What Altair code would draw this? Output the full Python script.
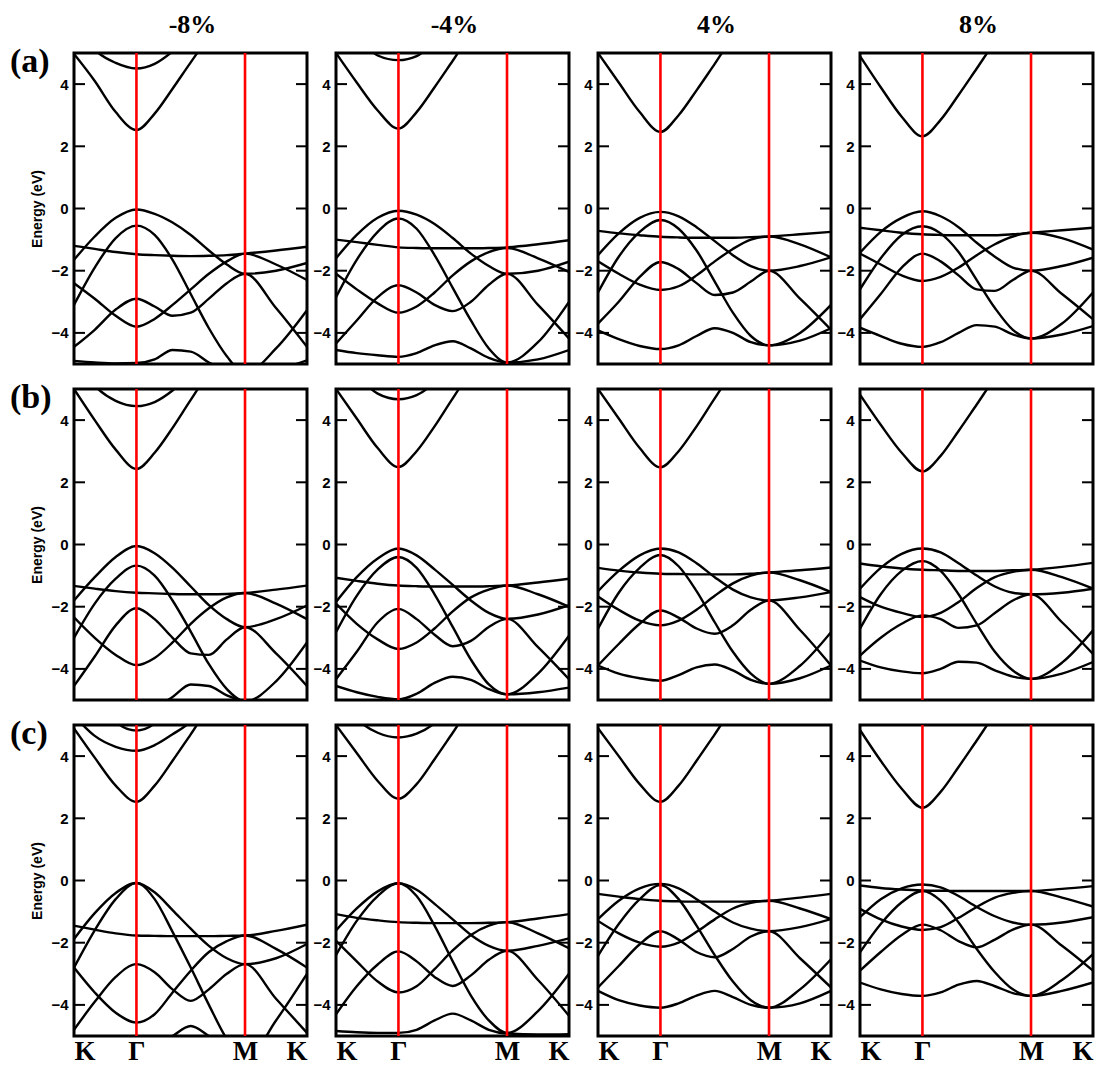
import altair as alt
import pandas as pd

# k-path sample positions: K, ., ., Gamma, ., ., ., ., ., M, ., K
K_PTS = [0.0, 0.089, 0.179, 0.268, 0.346, 0.423, 0.501, 0.579, 0.656, 0.734, 0.867, 1.0]
SYM_POS = [0.0, 0.268, 0.734, 1.0]
SYM_LAB = ["K", "Γ", "M", "K"]
STRAINS = ["-8%", "-4%", "4%", "8%"]
ROW_TAGS = ["(a)", "(b)", "(c)"]
Y_TICKS = [-4, -2, 0, 2, 4]

# ---------------- row (a) ----------------
A_M8 = {
    "C1": [4.97, 4.1, 3.1, 2.52, 3.05, 3.85, 4.7, 5.5, 6.0, 6.5, 7.0, 7.5],
    "C2": [6.0, 5.1, 4.68, 4.5, 4.65, 5.05, 5.6, 6.2, 6.6, 7.0, 7.5, 8.0],
    "B1": [-1.65, -0.9, -0.3, -0.03, -0.17, -0.45, -0.85, -1.35, -1.8, -2.1, -2.0, -1.75],
    "B2": [-3.1, -1.9, -0.95, -0.55, -0.85, -1.65, -2.75, -3.85, -4.75, -5.3, -4.5, -3.27],
    "B3": [-1.2, -1.3, -1.4, -1.47, -1.5, -1.52, -1.53, -1.52, -1.5, -1.45, -1.35, -1.23],
    "B4": [-4.45, -3.9, -3.25, -2.9, -3.15, -3.45, -3.35, -2.9, -2.4, -2.1, -3.2, -4.45],
    "B5": [-2.4, -2.9, -3.45, -3.8, -3.55, -3.1, -2.6, -2.1, -1.7, -1.45, -1.8, -2.3],
    "B6": [-4.9, -4.95, -4.98, -4.97, -4.85, -4.55, -4.6, -4.95, -5.2, -5.4, -5.2, -4.88],
}
A_M4 = {
    "C1": [5.0, 4.05, 3.15, 2.57, 3.1, 3.9, 4.75, 5.6, 6.1, 6.5, 7.0, 7.5],
    "C2": [6.5, 5.6, 4.92, 4.77, 4.9, 5.35, 6.0, 6.6, 7.0, 7.5, 8.0, 8.5],
    "B1": [-1.6, -0.85, -0.3, -0.07, -0.2, -0.5, -0.95, -1.45, -1.85, -2.1, -2.0, -1.71],
    "B2": [-2.85, -1.65, -0.75, -0.32, -0.65, -1.5, -2.55, -3.6, -4.5, -4.95, -4.3, -3.0],
    "B3": [-1.0, -1.08, -1.17, -1.25, -1.27, -1.28, -1.28, -1.28, -1.27, -1.25, -1.15, -1.02],
    "B4": [-4.34, -3.6, -2.85, -2.47, -2.7, -3.1, -3.3, -3.0, -2.45, -2.1, -3.1, -4.18],
    "B5": [-2.1, -2.6, -3.05, -3.35, -3.15, -2.7, -2.15, -1.7, -1.4, -1.27, -1.6, -2.04],
    "B6": [-4.55, -4.65, -4.72, -4.77, -4.65, -4.4, -4.27, -4.5, -4.8, -4.95, -4.85, -4.55],
}
A_P4 = {
    "C1": [5.0, 4.05, 3.1, 2.46, 3.0, 3.8, 4.65, 5.5, 6.0, 6.5, 7.0, 7.5],
    "B1": [-1.5, -0.8, -0.3, -0.11, -0.25, -0.6, -1.05, -1.5, -1.85, -2.0, -1.85, -1.57],
    "B2": [-2.7, -1.55, -0.75, -0.37, -0.65, -1.35, -2.35, -3.35, -4.1, -4.4, -4.0, -3.1],
    "B3": [-0.72, -0.8, -0.86, -0.91, -0.93, -0.94, -0.94, -0.94, -0.92, -0.9, -0.83, -0.75],
    "B4": [-3.7, -3.0, -2.2, -1.72, -1.95, -2.4, -2.78, -2.7, -2.35, -2.0, -2.9, -3.9],
    "B5": [-1.7, -2.1, -2.45, -2.62, -2.5, -2.15, -1.7, -1.3, -1.0, -0.9, -1.15, -1.57],
    "B6": [-3.92, -4.2, -4.42, -4.52, -4.4, -4.1, -3.85, -4.0, -4.3, -4.4, -4.25, -3.85],
}
A_P8 = {
    "C1": [4.9, 3.9, 2.95, 2.32, 2.85, 3.65, 4.5, 5.35, 6.0, 6.5, 7.0, 7.5],
    "B1": [-1.42, -0.75, -0.3, -0.09, -0.25, -0.6, -1.1, -1.55, -1.9, -2.0, -1.85, -1.58],
    "B2": [-2.6, -1.6, -0.85, -0.57, -0.8, -1.4, -2.3, -3.2, -3.9, -4.18, -3.7, -2.7],
    "B3": [-0.62, -0.7, -0.78, -0.83, -0.85, -0.86, -0.86, -0.86, -0.83, -0.78, -0.7, -0.62],
    "B4": [-3.56, -2.75, -1.9, -1.45, -1.7, -2.15, -2.6, -2.65, -2.3, -2.0, -2.75, -3.56],
    "B5": [-1.45, -1.8, -2.15, -2.33, -2.2, -1.9, -1.5, -1.15, -0.9, -0.78, -0.95, -1.32],
    "B6": [-3.83, -4.1, -4.35, -4.45, -4.3, -4.0, -3.75, -3.8, -4.05, -4.18, -4.05, -3.78],
}

# ---------------- row (b) ----------------
B_M8 = {
    "C1": [5.0, 4.0, 3.05, 2.43, 2.95, 3.75, 4.65, 5.5, 6.0, 6.5, 7.0, 7.5],
    "C2": [6.0, 5.1, 4.62, 4.45, 4.58, 4.95, 5.5, 6.2, 6.6, 7.0, 7.5, 8.0],
    "B1": [-1.8, -1.05, -0.4, -0.05, -0.28, -0.75, -1.35, -1.95, -2.4, -2.66, -2.4, -1.96],
    "B2": [-3.0, -1.9, -1.1, -0.68, -1.0, -1.8, -2.8, -3.85, -4.65, -5.05, -4.4, -3.15],
    "B3": [-1.33, -1.42, -1.5, -1.55, -1.57, -1.59, -1.6, -1.6, -1.59, -1.56, -1.45, -1.32],
    "B4": [-4.55, -3.6, -2.6, -2.05, -2.4, -3.0, -3.5, -3.55, -3.05, -2.66, -3.5, -4.55],
    "B5": [-2.34, -3.0, -3.55, -3.88, -3.65, -3.15, -2.55, -2.05, -1.7, -1.56, -1.9, -2.4],
    "B6": [-5.3, -5.4, -5.4, -5.4, -5.25, -4.9, -4.5, -4.55, -4.85, -5.05, -5.2, -5.2],
}
B_M4 = {
    "C1": [5.0, 4.05, 3.1, 2.49, 3.0, 3.8, 4.7, 5.55, 6.0, 6.5, 7.0, 7.5],
    "C2": [6.5, 5.5, 4.85, 4.67, 4.8, 5.2, 5.8, 6.5, 7.0, 7.5, 8.0, 8.5],
    "B1": [-1.85, -1.05, -0.45, -0.13, -0.35, -0.8, -1.3, -1.8, -2.2, -2.39, -2.25, -1.95],
    "B2": [-2.82, -1.65, -0.8, -0.4, -0.75, -1.6, -2.65, -3.7, -4.5, -4.82, -4.15, -2.93],
    "B3": [-1.07, -1.17, -1.26, -1.32, -1.34, -1.35, -1.35, -1.35, -1.34, -1.32, -1.22, -1.1],
    "B4": [-4.33, -3.45, -2.5, -2.07, -2.4, -2.9, -3.27, -3.1, -2.65, -2.39, -3.3, -4.33],
    "B5": [-1.9, -2.55, -3.05, -3.36, -3.15, -2.7, -2.15, -1.7, -1.45, -1.32, -1.6, -2.0],
    "B6": [-4.55, -4.75, -4.9, -4.98, -4.8, -4.45, -4.25, -4.35, -4.65, -4.82, -4.75, -4.6],
}
B_P4 = {
    "C1": [5.0, 4.05, 3.1, 2.48, 3.0, 3.8, 4.7, 5.55, 6.0, 6.5, 7.0, 7.5],
    "B1": [-1.5, -0.85, -0.35, -0.13, -0.25, -0.6, -1.05, -1.45, -1.7, -1.8, -1.7, -1.53],
    "B2": [-2.71, -1.55, -0.75, -0.34, -0.7, -1.5, -2.5, -3.45, -4.15, -4.48, -3.9, -2.82],
    "B3": [-0.75, -0.84, -0.9, -0.94, -0.95, -0.96, -0.96, -0.96, -0.94, -0.9, -0.83, -0.74],
    "B4": [-3.89, -3.2, -2.55, -2.12, -2.35, -2.7, -2.87, -2.6, -2.1, -1.8, -2.75, -3.89],
    "B5": [-1.67, -2.1, -2.45, -2.6, -2.45, -2.1, -1.65, -1.25, -1.0, -0.9, -1.15, -1.53],
    "B6": [-3.89, -4.15, -4.3, -4.38, -4.2, -3.95, -3.86, -4.05, -4.35, -4.48, -4.3, -3.89],
}
B_P8 = {
    "C1": [4.82, 3.85, 2.95, 2.35, 2.85, 3.65, 4.5, 5.35, 6.0, 6.5, 7.0, 7.5],
    "B1": [-1.42, -0.75, -0.3, -0.13, -0.25, -0.6, -1.0, -1.35, -1.55, -1.6, -1.55, -1.42],
    "B2": [-2.71, -1.6, -0.85, -0.53, -0.85, -1.6, -2.55, -3.45, -4.05, -4.32, -3.8, -2.76],
    "B3": [-0.61, -0.7, -0.77, -0.81, -0.83, -0.85, -0.85, -0.85, -0.83, -0.81, -0.72, -0.59],
    "B4": [-3.57, -3.0, -2.55, -2.28, -2.4, -2.68, -2.6, -2.2, -1.8, -1.6, -2.5, -3.52],
    "B5": [-1.69, -2.0, -2.2, -2.33, -2.2, -1.85, -1.4, -1.05, -0.88, -0.81, -1.05, -1.42],
    "B6": [-3.73, -3.95, -4.08, -4.14, -4.0, -3.77, -3.8, -4.05, -4.25, -4.32, -4.15, -3.78],
}

# ---------------- row (c) ----------------
C_M8 = {
    "C1": [4.89, 3.95, 3.05, 2.53, 3.05, 3.85, 4.7, 5.55, 6.0, 6.5, 7.0, 7.5],
    "C2": [5.3, 4.65, 4.3, 4.17, 4.35, 4.7, 5.1, 5.7, 6.2, 6.5, 7.0, 7.5],
    "C3": [7.0, 6.0, 5.1, 4.82, 5.05, 5.7, 6.5, 7.0, 7.5, 8.0, 8.5, 9.0],
    "B1": [-1.88, -1.05, -0.4, -0.08, -0.38, -0.95, -1.55, -2.1, -2.5, -2.69, -2.5, -2.04],
    "B2": [-2.8, -1.6, -0.6, -0.08, -0.6, -1.65, -2.8, -4.0, -5.1, -5.8, -4.5, -3.0],
    "B3": [-1.45, -1.58, -1.7, -1.77, -1.78, -1.79, -1.79, -1.79, -1.78, -1.77, -1.62, -1.42],
    "B4": [-4.8, -3.9, -3.1, -2.69, -2.95, -3.5, -3.87, -3.5, -3.0, -2.69, -3.8, -4.9],
    "B5": [-2.8, -3.6, -4.25, -4.57, -4.3, -3.6, -2.9, -2.3, -1.95, -1.77, -2.2, -2.8],
    "B6": [-5.5, -5.5, -5.5, -5.5, -5.4, -5.0, -4.68, -5.0, -5.4, -5.6, -5.6, -5.5],
}
C_M4 = {
    "C1": [5.0, 4.1, 3.2, 2.63, 3.1, 3.9, 4.75, 5.6, 6.1, 6.5, 7.0, 7.5],
    "C2": [6.2, 5.2, 4.75, 4.6, 4.72, 5.05, 5.6, 6.3, 7.0, 7.5, 8.0, 8.5],
    "B1": [-1.61, -0.9, -0.35, -0.09, -0.3, -0.75, -1.25, -1.75, -2.1, -2.26, -2.1, -1.86],
    "B2": [-2.4, -1.3, -0.5, -0.09, -0.5, -1.45, -2.6, -3.7, -4.5, -4.9, -4.2, -3.0],
    "B3": [-1.08, -1.2, -1.28, -1.34, -1.36, -1.37, -1.37, -1.37, -1.36, -1.34, -1.22, -1.08],
    "B4": [-4.3, -3.4, -2.7, -2.28, -2.6, -3.1, -3.39, -3.05, -2.55, -2.26, -3.2, -4.35],
    "B5": [-1.94, -2.6, -3.25, -3.6, -3.4, -2.85, -2.25, -1.75, -1.45, -1.34, -1.7, -2.18],
    "B6": [-4.84, -4.88, -4.9, -4.9, -4.8, -4.5, -4.28, -4.5, -4.8, -4.92, -4.95, -4.94],
}
C_P4 = {
    "C1": [4.9, 4.0, 3.1, 2.53, 3.05, 3.85, 4.7, 5.55, 6.0, 6.5, 7.0, 7.5],
    "B1": [-1.24, -0.65, -0.25, -0.11, -0.25, -0.6, -1.0, -1.35, -1.55, -1.63, -1.5, -1.24],
    "B2": [-2.42, -1.4, -0.6, -0.15, -0.6, -1.45, -2.4, -3.25, -3.85, -4.09, -3.5, -2.53],
    "B3": [-0.43, -0.52, -0.6, -0.65, -0.67, -0.68, -0.68, -0.68, -0.67, -0.65, -0.55, -0.43],
    "B4": [-3.44, -2.75, -2.05, -1.63, -1.9, -2.3, -2.47, -2.2, -1.8, -1.63, -2.5, -3.44],
    "B5": [-1.3, -1.7, -2.0, -2.13, -2.0, -1.65, -1.25, -0.9, -0.72, -0.65, -0.9, -1.24],
    "B6": [-3.55, -3.85, -4.02, -4.09, -3.95, -3.7, -3.55, -3.75, -4.0, -4.09, -3.95, -3.55],
}
C_P8 = {
    "C1": [4.84, 3.85, 2.95, 2.34, 2.85, 3.65, 4.5, 5.35, 6.0, 6.5, 7.0, 7.5],
    "B1": [-1.18, -0.6, -0.25, -0.13, -0.22, -0.5, -0.85, -1.15, -1.35, -1.42, -1.35, -1.18],
    "B2": [-2.31, -1.4, -0.7, -0.34, -0.65, -1.35, -2.2, -2.95, -3.5, -3.71, -3.2, -2.37],
    "B3": [-0.16, -0.24, -0.29, -0.32, -0.33, -0.34, -0.34, -0.34, -0.34, -0.34, -0.27, -0.18],
    "B4": [-2.9, -2.3, -1.75, -1.42, -1.6, -1.95, -2.15, -1.9, -1.58, -1.42, -2.1, -2.9],
    "B5": [-0.91, -1.25, -1.48, -1.59, -1.5, -1.2, -0.85, -0.55, -0.4, -0.34, -0.55, -0.84],
    "B6": [-3.28, -3.5, -3.65, -3.71, -3.6, -3.35, -3.23, -3.4, -3.62, -3.71, -3.55, -3.28],
}

PANELS = [
    [A_M8, A_M4, A_P4, A_P8],
    [B_M8, B_M4, B_P4, B_P8],
    [C_M8, C_M4, C_P4, C_P8],
]

W, H = 233, 311
TICK_LEN = 11
SERIF = "Liberation Serif"
SANS = "Liberation Sans"

# label expression for the k-path ticks, built from the lists above
mids = [(SYM_POS[i] + SYM_POS[i + 1]) / 2 for i in range(len(SYM_POS) - 1)]
expr = f"'{SYM_LAB[-1]}'"
for m, lab in reversed(list(zip(mids, SYM_LAB[:-1]))):
    expr = f"datum.value < {m} ? '{lab}' : ({expr})"

xscale = alt.Scale(domain=[0, 1], nice=False, zero=False)
yscale = alt.Scale(domain=[-5, 5], nice=False, zero=False)

# inward frame ticks: one row per (energy, side); the tick spans TICK_LEN pixels
frac = TICK_LEN / W
tick_rows = []
for e in Y_TICKS:
    tick_rows.append({"E": e, "x0": SYM_POS[0], "x1": SYM_POS[0] + frac})
    tick_rows.append({"E": e, "x0": SYM_POS[-1] - frac, "x1": SYM_POS[-1]})
TICK_DF = pd.DataFrame(tick_rows)


def make_panel(bands, r, c):
    recs = []
    for name, vals in bands.items():
        for k, e in zip(K_PTS, vals):
            recs.append({"k": k, "E": e, "band": name})
    df = pd.DataFrame(recs)

    if r == 2:
        xaxis = alt.Axis(values=SYM_POS, labelExpr=expr, title=None, ticks=False,
                         domain=False, grid=False, labelFont=SERIF, labelFontWeight="bold",
                         labelFontSize=27, labelPadding=2, labelFlush=True,
                         labelColor="black")
    else:
        xaxis = None

    yargs = dict(values=Y_TICKS, ticks=False, domain=False, grid=False,
                 labelFont=SANS, labelFontWeight="bold", labelFontSize=15,
                 labelPadding=6, labelColor="black")
    if c == 0:
        yaxis = alt.Axis(title="Energy (eV)", titleFont=SANS, titleFontWeight="bold",
                         titleFontSize=14, titlePadding=6, titleColor="black", **yargs)
    else:
        yaxis = alt.Axis(title=None, **yargs)

    x_enc = alt.X("k:Q", scale=xscale, axis=xaxis)
    y_enc = alt.Y("E:Q", scale=yscale, axis=yaxis)

    lines = alt.Chart(df).mark_line(
        color="black", strokeWidth=2.4, interpolate="monotone", clip=True
    ).encode(x=x_enc, y=y_enc, detail="band:N")

    sym_df = pd.DataFrame({"k": SYM_POS[1:-1]})
    rules = alt.Chart(sym_df).mark_rule(color="#ff0000", strokeWidth=2.6).encode(x=x_enc)

    ticks = alt.Chart(TICK_DF).mark_rule(color="black", strokeWidth=2).encode(
        x=alt.X("x0:Q", scale=xscale, axis=xaxis), x2="x1:Q", y=y_enc)

    layers = [lines, rules, ticks]
    if r == 0:
        layers.append(alt.Chart(pd.DataFrame({"t": [STRAINS[c]]})).mark_text(
            font=SERIF, fontWeight="bold", fontSize=26, align="center", baseline="middle",
            color="black").encode(text="t:N", x=alt.value(W / 2 + 2), y=alt.value(-28)))
    if c == 0:
        layers.append(alt.Chart(pd.DataFrame({"t": [ROW_TAGS[r]]})).mark_text(
            font=SERIF, fontWeight="bold", fontSize=34, align="left", baseline="middle",
            color="black").encode(text="t:N", x=alt.value(-64), y=alt.value(9)))
    return alt.layer(*layers).properties(width=W, height=H)


charts = [make_panel(PANELS[r][c], r, c) for r in range(3) for c in range(4)]

chart = alt.concat(*charts, columns=4, spacing={"row": 25, "column": 29},
                   bounds="flush").properties(
    padding={"left": 0, "top": 2, "right": 0, "bottom": 0},
    background="white",
).configure_view(stroke="black", strokeWidth=3)

chart.save("out.html", embed_options={"renderer": "svg", "actions": False})
